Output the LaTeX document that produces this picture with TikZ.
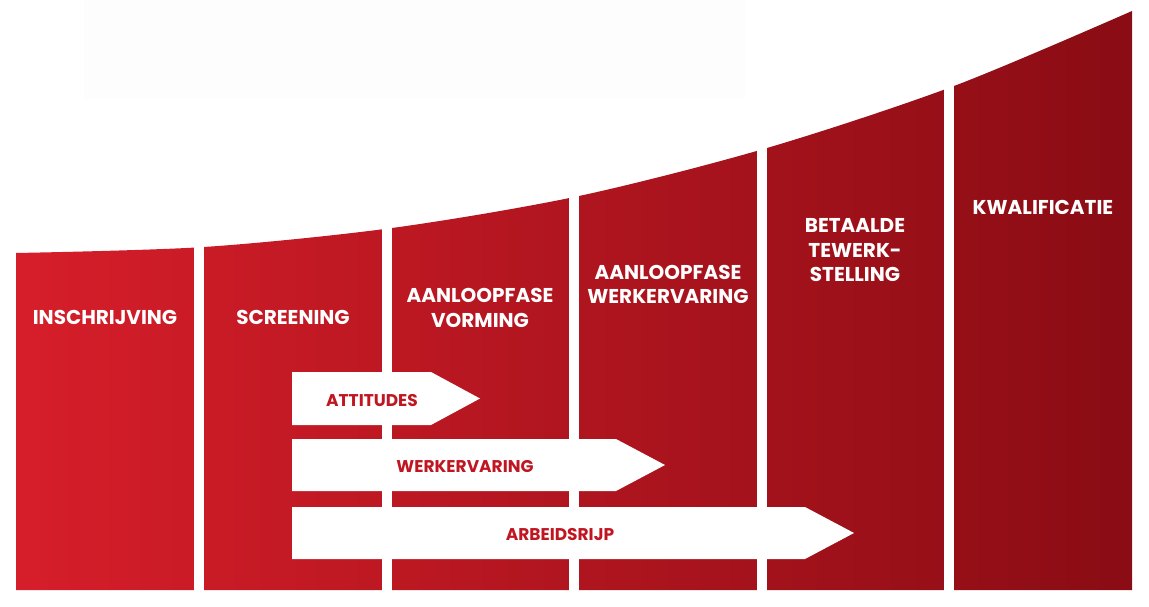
\documentclass[tikz,border=0pt]{standalone}
\usepackage{fontspec}
\setmainfont{Poppins}
\definecolor{redL}{RGB}{214,30,42}
\definecolor{redR}{RGB}{138,12,20}
\definecolor{txtred}{RGB}{192,22,34}
\definecolor{faint}{RGB}{253,253,253}
\tikzset{
  coltext/.style={text=white,font=\bfseries\fontsize{20}{24.5}\selectfont,align=center,anchor=base,inner sep=0pt},
  arrtext/.style={text=txtred,font=\bfseries\fontsize{17}{18}\selectfont,anchor=base,inner sep=0pt},
  arrowshape/.style={fill=white},
  gap/.style={fill=white}
}
\begin{document}
\begin{tikzpicture}[x=1pt,y=-1pt]
\useasboundingbox (0,0) rectangle (1149,607);
% stepped columns with rising top edge
\shade[left color=redL,right color=redR]
  (16,590) -- plot[smooth] coordinates {(16,253) (204,247) (392,228) (579,196) (767,148) (954,86) (1132,11)}
  -- (1132,590) -- cycle;
% white gaps between columns
\foreach \gx in {194,382,569,757,944}
  \fill[gap] (\gx,0) rectangle ++(10,600);
\fill[faint] (84,0) rectangle (745,99);
% process arrows
\fill[arrowshape] (292,372) -- (431,372) -- (480,398.5) -- (431,425) -- (292,425) -- cycle;
\fill[arrowshape] (292,439) -- (616,439) -- (665,465) -- (616,491) -- (292,491) -- cycle;
\fill[arrowshape] (292,507) -- (805,507) -- (854,533) -- (805,559) -- (292,559) -- cycle;
% column labels (base anchor = baseline of last line)
\node[coltext] (c1) at (105,324) {INSCHRIJVING};
\node[coltext] (c2) at (293,324) {SCREENING};
\node[coltext] (c3) at (480,327) {AANLOOPFASE\\VORMING};
\node[coltext] (c4) at (668,303.5) {AANLOOPFASE\\WERKERVARING};
\node[coltext] (c5) at (855,281.5) {BETAALDE\\TEWERK-\\STELLING};
\node[coltext] (c6) at (1043,214.3) {KWALIFICATIE};
% arrow labels
\node[arrtext] (a1) at (372,406.7) {ATTITUDES};
\node[arrtext] (a2) at (465,472.7) {WERKERVARING};
\node[arrtext] (a3) at (560,540) {ARBEIDSRIJP};
\end{tikzpicture}
\end{document}
